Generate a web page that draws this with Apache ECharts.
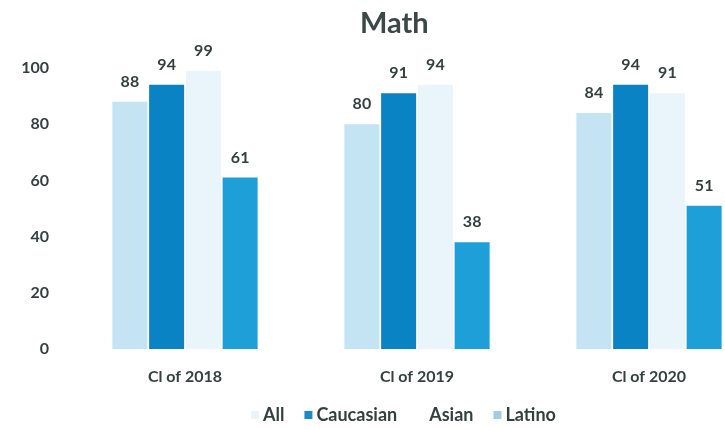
<!DOCTYPE html>
<html>
<head>
<meta charset="utf-8">
<script src="https://cdn.jsdelivr.net/npm/echarts@6/dist/echarts.min.js"></script>
<style>
  html, body { margin: 0; padding: 0; background: #ffffff; }
  #chart { width: 725px; height: 430px; }
</style>
</head>
<body>
<div id="chart"></div>
<script>
// Math scores by cohort and group
const categories = ['Cl of 2018', 'Cl of 2019', 'Cl of 2020'];
const seriesNames = ['All', 'Caucasian', 'Asian', 'Latino'];
const allValues = [88, 80, 84];
const caucasianValues = [94, 91, 94];
const asianValues = [99, 94, 91];
const latinoValues = [61, 38, 51];
const yTicks = [0, 20, 40, 60, 80, 100];

const FONT = 'Lato, "Open Sans", sans-serif';
const TEXT = '#34403f';

const barColors = ['#c4e3f3', '#0a83c5', '#eaf4fb', '#1e9fd8'];
const legendIcons = ['#edf4f9', '#1a8cc4', '#ffffff', '#a3cde1'];
const values = [allValues, caucasianValues, asianValues, latinoValues];

const chart = echarts.init(document.getElementById('chart'), null, { renderer: 'canvas' });

chart.setOption({
  animation: false,
  backgroundColor: '#ffffff',
  title: {
    text: 'Math',
    left: 355,
    top: 4,
    textStyle: { fontFamily: FONT, fontWeight: 'bold', fontSize: 29, color: '#3a4846' }
  },
  legend: {
    top: 401,
    left: 246,
    itemWidth: 8,
    itemHeight: 8,
    itemGap: 20,
    icon: 'rect',
    textStyle: { fontFamily: FONT, fontWeight: 'bold', fontSize: 18, color: TEXT, padding: [0, 0, 0, -1] },
    data: seriesNames.map((n, i) => ({ name: n, itemStyle: { color: legendIcons[i] } }))
  },
  // the plot area runs past the right edge of the canvas
  grid: { left: 69, width: 696, top: 68, height: 281, outerBoundsMode: 'none', containLabel: false },
  xAxis: {
    type: 'category',
    data: categories,
    axisLine: { show: false },
    axisTick: { show: false },
    axisLabel: { margin: 20, fontFamily: FONT, fontWeight: 'bold', fontSize: 16, color: TEXT }
  },
  yAxis: {
    type: 'value',
    min: yTicks[0],
    max: yTicks[yTicks.length - 1],
    interval: yTicks[1] - yTicks[0],
    splitLine: { show: false },
    axisLine: { show: false },
    axisTick: { show: false },
    axisLabel: { margin: 20, fontFamily: FONT, fontWeight: 'bold', fontSize: 16, color: TEXT }
  },
  series: seriesNames.map((name, i) => ({
    name: name,
    type: 'bar',
    data: values[i],
    barWidth: 35,
    barGap: '5%',
    itemStyle: { color: barColors[i] },
    label: {
      show: true,
      position: 'top',
      distance: 12,
      fontFamily: FONT,
      fontWeight: 'bold',
      fontSize: 16,
      color: TEXT
    }
  }))
});
</script>
</body>
</html>
